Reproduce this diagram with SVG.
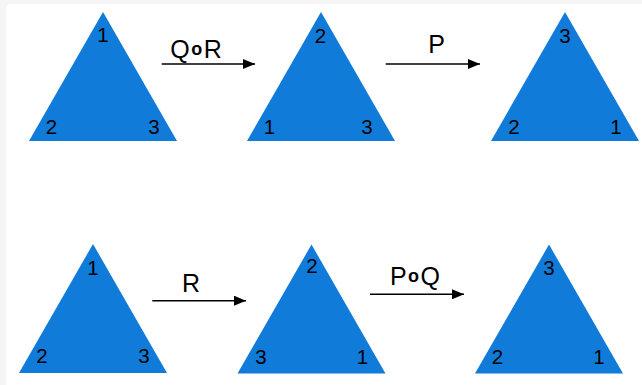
<svg xmlns="http://www.w3.org/2000/svg" width="642" height="385" viewBox="0 0 642 385">
<style>
.tri{fill:#117bd9}
.d{font-family:"Liberation Sans",Arial,sans-serif;font-size:20.5px;fill:#000;text-anchor:middle}
.lb{font-family:"Liberation Sans",Arial,sans-serif;font-size:25px;fill:#000;text-anchor:middle}
.o{font-size:18px;font-weight:bold}
.ar{stroke:#000;stroke-width:1.5;fill:none}
</style>
<defs>
<marker id="ah" markerUnits="userSpaceOnUse" markerWidth="12" markerHeight="10" refX="12" refY="5" orient="auto">
<path d="M0,0 L12,5 L0,10 Z" fill="#000"/>
</marker>
</defs>
<rect x="0" y="0" width="642" height="385" fill="#f5f5f5"/>
<rect x="6" y="4" width="646" height="395" rx="5" fill="#fff"/>
<g id="t1">
<polygon class="tri" points="103,12 177,141 29,141"/>
<text class="d" x="103" y="42">1</text>
<text class="d" x="51.5" y="133.5">2</text>
<text class="d" x="154" y="133.5">3</text>
</g>
<g id="t2">
<polygon class="tri" points="321,12 395,141 247,141"/>
<text class="d" x="320.5" y="42.5">2</text>
<text class="d" x="269.5" y="133.5">1</text>
<text class="d" x="367" y="133.5">3</text>
</g>
<g id="t3">
<polygon class="tri" points="565,12 639,141 491,141"/>
<text class="d" x="565" y="42.5">3</text>
<text class="d" x="514" y="133.5">2</text>
<text class="d" x="616" y="133.5">1</text>
</g>
<g id="t4">
<polygon class="tri" points="93,244 167,373 19,373"/>
<text class="d" x="93" y="274.5">1</text>
<text class="d" x="42" y="363">2</text>
<text class="d" x="144" y="363">3</text>
</g>
<g id="t5">
<polygon class="tri" points="311.5,244.5 385.5,373.5 237.5,373.5"/>
<text class="d" x="312" y="273">2</text>
<text class="d" x="261" y="363.5">3</text>
<text class="d" x="362.5" y="363.5">1</text>
</g>
<g id="t6">
<polygon class="tri" points="549,244.5 623,373.5 475,373.5"/>
<text class="d" x="549" y="275">3</text>
<text class="d" x="497.5" y="363.5">2</text>
<text class="d" x="599" y="363.5">1</text>
</g>
<g id="connectors">
<line class="ar" x1="161.7" y1="64" x2="255" y2="64" marker-end="url(#ah)"/>
<text class="lb" x="196" y="58.3">Q<tspan class="o" dx="1.5" dy="-3">o</tspan><tspan dx="1.5" dy="3">R</tspan></text>
<line class="ar" x1="385.7" y1="64" x2="480" y2="64" marker-end="url(#ah)"/>
<text class="lb" x="436.5" y="53.3">P</text>
<line class="ar" x1="152.3" y1="300.7" x2="246" y2="300.7" marker-end="url(#ah)"/>
<text class="lb" x="191" y="292.3">R</text>
<line class="ar" x1="370" y1="294.3" x2="464" y2="294.3" marker-end="url(#ah)"/>
<text class="lb" x="415" y="285">P<tspan class="o" dx="1.5" dy="-3">o</tspan><tspan dx="1.5" dy="3">Q</tspan></text>
</g>
</svg>
